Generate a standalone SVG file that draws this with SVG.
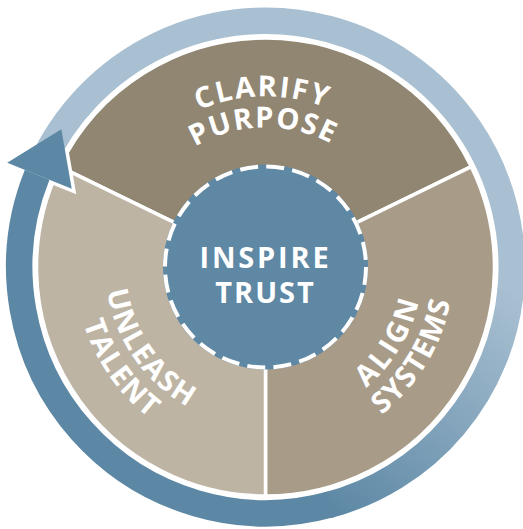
<svg xmlns="http://www.w3.org/2000/svg" width="523" height="529" viewBox="0 0 523 529">
<style>
.lbl{font-family:"Open Sans","Liberation Sans",sans-serif;font-weight:700;font-size:29px;fill:#ffffff}
.ring{fill:none;stroke-width:26.5}
.sep{stroke:#ffffff;stroke-width:3.5;stroke-linejoin:round}
</style>
<defs>
<linearGradient id="grad" gradientUnits="userSpaceOnUse" x1="510.8" y1="288.5" x2="327.2" y2="505.4">
<stop offset="0" stop-color="#a9c0d2"/>
<stop offset="1" stop-color="#5d88a5"/>
</linearGradient>
<path id="pClarify" d="M95.42,255.11 A170.5,170.5 0 0 1 435.07,249.18"/>
<path id="pPurpose" d="M126.34,257.27 A139.5,139.5 0 0 1 404.24,252.42"/>
<path id="pAlign" d="M196.68,408.11 A157,157 0 0 0 357.78,139.98"/>
<path id="pSystems" d="M183.09,435.97 A188,188 0 0 0 376.00,114.90"/>
<path id="pUnleash" d="M162.65,144.43 A160,160 0 0 0 345.5,405.56"/>
<path id="pTalent" d="M143.05,121.07 A190.5,190.5 0 0 0 360.75,431.98"/>
</defs>
<rect width="523" height="529" fill="#ffffff"/>
<g id="node-clarify-purpose">
<path class="sep" fill="#918671" d="M265.5,267 L59.68,166.61 A229,229 0 0 1 471.32,166.61 Z"/>
<text class="lbl" letter-spacing="2"><textPath href="#pClarify" startOffset="50%" text-anchor="middle">CLARIFY</textPath></text>
<text class="lbl" letter-spacing="1.5"><textPath href="#pPurpose" startOffset="50%" text-anchor="middle">PURPOSE</textPath></text>
</g>
<g id="node-align-systems">
<path class="sep" fill="#a89c89" d="M265.5,267 L471.32,166.61 A229,229 0 0 1 265.5,496 Z"/>
<text class="lbl" letter-spacing="3"><textPath href="#pAlign" startOffset="50%" text-anchor="middle">ALIGN</textPath></text>
<text class="lbl" letter-spacing="1.5"><textPath href="#pSystems" startOffset="50%" text-anchor="middle">SYSTEMS</textPath></text>
</g>
<g id="node-unleash-talent">
<path class="sep" fill="#bdb4a4" d="M265.5,267 L265.5,496 A229,229 0 0 1 59.68,166.61 Z"/>
<text class="lbl" letter-spacing="1.6"><textPath href="#pUnleash" startOffset="50%" text-anchor="middle">UNLEASH</textPath></text>
<text class="lbl" letter-spacing="1.5"><textPath href="#pTalent" startOffset="50%" text-anchor="middle">TALENT</textPath></text>
</g>
<g id="connectors">
<polygon points="7.19,162.63 61.35,129.30 71.72,188.71" fill="#ffffff" stroke="#ffffff" stroke-width="7" stroke-linejoin="miter"/>
<path class="ring" stroke="#a9c0d2" d="M40.54,166.84 A246.25,246.25 0 0 1 510.40,292.74"/>
<path class="ring" stroke="url(#grad)" d="M510.81,288.46 A246.25,246.25 0 0 1 327.16,505.41"/>
<path class="ring" stroke="#5d88a5" d="M331.09,504.35 A246.25,246.25 0 0 1 37.18,174.75"/>
<polygon points="7.19,162.63 61.35,129.30 71.72,188.71" fill="#5d88a5"/>
</g>
<g id="node-inspire-trust">
<circle cx="265.5" cy="267" r="102.5" fill="#5e88a4"/>
<circle cx="265.5" cy="267" r="100.5" fill="none" stroke="#ffffff" stroke-width="4" stroke-dasharray="18 8.31"/>
<text class="lbl" x="265.5" y="268" text-anchor="middle" letter-spacing="2.8">INSPIRE</text>
<text class="lbl" x="265.5" y="303" text-anchor="middle" letter-spacing="2">TRUST</text>
</g>
</svg>
